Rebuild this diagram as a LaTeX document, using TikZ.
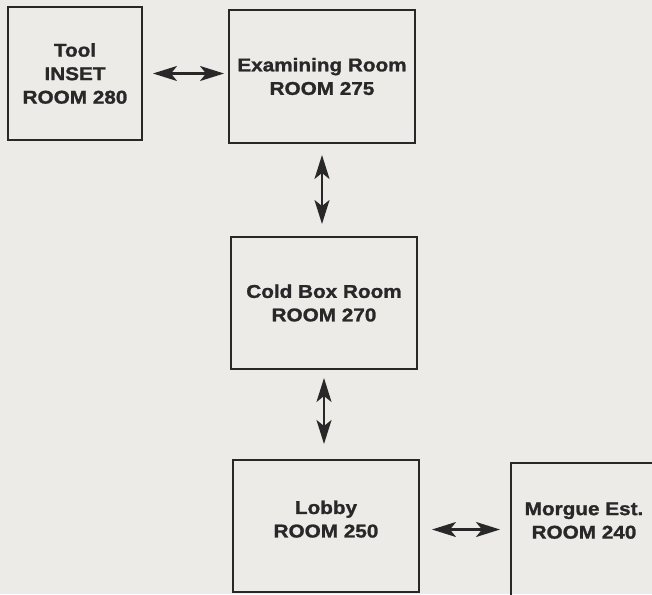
\documentclass[tikz,border=0pt]{standalone}
\usepackage{fontspec}
\usepackage{xcolor}
\usetikzlibrary{arrows.meta}
\newfontfamily\roomfont{Liberation Sans}[FakeStretch=1.12, BoldFeatures={FakeBold=1.3}]
\definecolor{paper}{RGB}{236,235,232}
\definecolor{ink}{RGB}{40,40,40}

\tikzset{
    room/.style={draw=ink, line width=2pt, fill=none, inner sep=0pt, align=center,
        text=ink, font=\roomfont\bfseries\fontsize{18.5}{23.5}\selectfont},
    link/.style={draw=ink, line width=2.2pt,
        {Stealth[length=24pt, width=15pt, inset=6pt]}-{Stealth[length=24pt, width=15pt, inset=6pt]}}
}

\begin{document}
\begin{tikzpicture}[x=1pt, y=-1pt]

        % page
            \fill[paper] (0,0) rectangle (652,594);
            \clip (0,0) rectangle (652,594);

        % rooms
            \node[room, minimum width=134pt, minimum height=133pt] (tool) at (75,73.5) {Tool\\INSET\\ROOM 280};
            \node[room, minimum width=186pt, minimum height=133pt] (exam) at (322,76.5) {Examining Room\\ROOM 275};
            \node[room, minimum width=186pt, minimum height=132pt] (cold) at (324,303) {Cold Box Room\\ROOM 270};
            \node[room, minimum width=186pt, minimum height=132pt, text depth=14pt] (lobby) at (326,526) {Lobby\\ROOM 250};
            \node[room, minimum width=146pt, minimum height=133pt, text depth=18pt] (morgue) at (584,529.5) {Morgue Est.\\ROOM 240};

        % doors
            \draw[link, shorten <=10pt, shorten >=4pt] (tool.east) -- (tool.east -| exam.west);
            \draw[link, shorten <=11pt, shorten >=12pt] (exam.south) -- (exam.south |- cold.north);
            \draw[link, shorten <=8pt, shorten >=15pt] (cold.south) -- (cold.south |- lobby.north);
            \draw[link, shorten <=12pt, shorten >=10pt] (morgue.west -| lobby.east) -- (morgue.west);
        \end{tikzpicture}
\end{document}
